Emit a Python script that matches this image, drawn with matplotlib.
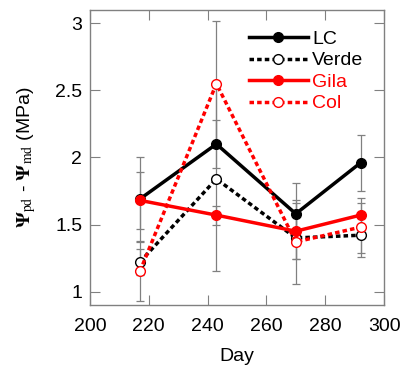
import matplotlib
matplotlib.use('Agg')
import matplotlib.pyplot as plt

plt.rcParams['font.family'] = ['Liberation Sans', 'DejaVu Sans']
plt.rcParams['mathtext.fontset'] = 'stix'

day = [217, 243, 270, 292]

lc = [1.69, 2.10, 1.58, 1.96]
lc_err = [0.31, 0.18, 0.23, 0.21]
verde = [1.22, 1.84, 1.40, 1.42]
verde_err = [0.10, 0.69, 0.16, 0.13]
gila = [1.68, 1.57, 1.45, 1.57]
gila_err = [0.21, 0.07, 0.21, 0.09]
col = [1.15, 2.55, 1.37, 1.48]
col_err = [0.22, 0.47, 0.31, 0.22]

fig = plt.figure(figsize=(4.03, 3.67), dpi=100)
ax = fig.add_axes([0.223, 0.169, 0.730, 0.804])

series = [
    ('LC', lc, lc_err, 'black', '-', 'black'),
    ('Verde', verde, verde_err, 'black', (0, (1.3, 0.9)), 'white'),
    ('Gila', gila, gila_err, 'red', '-', 'red'),
    ('Col', col, col_err, 'red', (0, (1.3, 0.9)), 'white'),
]

# error bars first, behind the lines
for name, vals, err, c, ls, fc in series:
    ax.errorbar(day, vals, yerr=err, fmt='none', ecolor='#808080',
                elinewidth=0.9, capsize=3, capthick=0.9, zorder=1)

for name, vals, err, c, ls, fc in series:
    ax.plot(day, vals, color=c, linestyle=ls, linewidth=2.5, marker='o',
            markersize=7, markerfacecolor=fc, markeredgecolor=c,
            markeredgewidth=1.0, label=name, zorder=3)

ax.set_xlim(200, 300)
ax.set_ylim(0.9, 3.1)
ax.set_xticks([200, 220, 240, 260, 280, 300])
ax.set_yticks([1, 1.5, 2, 2.5, 3])
ax.set_yticklabels(['1', '1.5', '2', '2.5', '3'])
ax.tick_params(direction='in', top=True, right=True, length=7, width=0.8,
               color='#808080', labelsize=14)
ax.tick_params(axis='x', pad=9.5)
ax.tick_params(axis='y', pad=5.5)
for s in ax.spines.values():
    s.set_color('#808080')
    s.set_linewidth(1.0)

ax.set_xlabel('Day', fontsize=14, labelpad=9)
ax.set_ylabel(r'$\mathbf{\Psi}_{\rm pd}$ - $\mathbf{\Psi}_{\rm md}$ (MPa)',
              fontsize=14, labelpad=12)

leg = ax.legend(loc='upper right', frameon=False, fontsize=14,
                handlelength=3.0, handletextpad=0.25, labelspacing=0.2,
                borderaxespad=0.5, borderpad=0.55)
for t, (name, vals, err, c, ls, fc) in zip(leg.get_texts(), series):
    t.set_color(c)

fig.savefig('out.png', dpi=100)
